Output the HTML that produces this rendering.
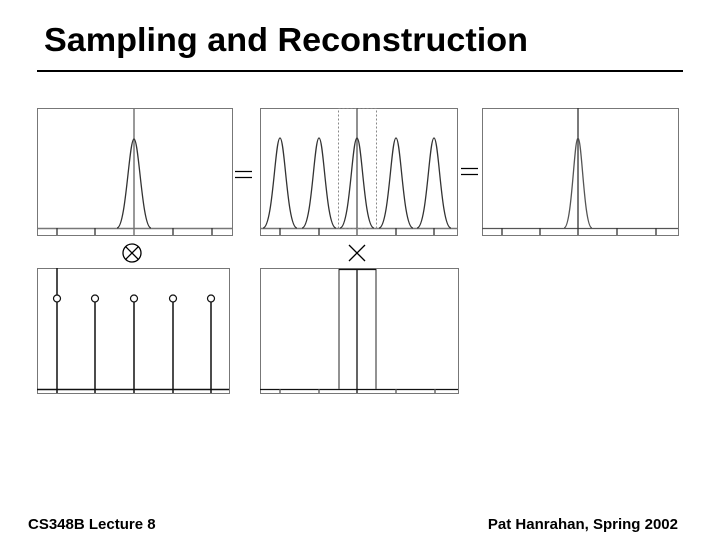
<!DOCTYPE html>
<html><head><meta charset="utf-8"><style>
html,body{margin:0;padding:0;background:#fff}
svg{display:block}
</style></head><body>
<svg width="720" height="540" viewBox="0 0 720 540" xmlns="http://www.w3.org/2000/svg" font-family="Liberation Sans, sans-serif">
<text x="44" y="51" font-size="33" font-weight="bold" textLength="484" lengthAdjust="spacingAndGlyphs">Sampling and Reconstruction</text>
<line x1="37" y1="71" x2="683" y2="71" stroke="#000" stroke-width="2"/>

<g fill="none" stroke="#777" stroke-width="1">
<rect x="37.5" y="108.5" width="195" height="127"/>
<rect x="260.5" y="108.5" width="197" height="127"/>
<rect x="482.5" y="108.5" width="196" height="127"/>
<rect x="37.5" y="268.5" width="192" height="125"/>
<rect x="260.5" y="268.5" width="198" height="125"/>
</g>

<!-- Panel 1 -->
<g stroke-width="1.3" fill="none">
<line x1="37" y1="228.5" x2="232" y2="228.5" stroke="#777" stroke-width="1.5"/>
<line x1="134" y1="108" x2="134" y2="235" stroke="#777" stroke-width="1.5"/>
<path d="M117,228 C126,228 129,139 134,139 C139,139 142,228 151,228" stroke="#333"/>
<g stroke="#333"><line x1="57" y1="228" x2="57" y2="235"/><line x1="95" y1="228" x2="95" y2="235"/><line x1="173" y1="228" x2="173" y2="235"/><line x1="212" y1="228" x2="212" y2="235"/></g>
</g>

<!-- Panel 2 -->
<g stroke-width="1.3" fill="none">
<line x1="260" y1="228.5" x2="457" y2="228.5" stroke="#777" stroke-width="1.5"/>
<line x1="357" y1="108" x2="357" y2="235" stroke="#555"/>
<rect x="338.5" y="108.5" width="38" height="120" stroke="#888" stroke-dasharray="2,2" stroke-width="1"/>
<g stroke="#333">
<path d="M263,228 C273,228 275,138 280,138 C285,138 287,228 297,228"/>
<path d="M302,228 C312,228 314,138 319,138 C324,138 326,228 336,228"/>
<path d="M340,228 C350,228 352,138 357,138 C362,138 364,228 374,228"/>
<path d="M379,228 C389,228 391,138 396,138 C401,138 403,228 413,228"/>
<path d="M417,228 C427,228 429,138 434,138 C439,138 441,228 451,228"/>
<line x1="280" y1="228" x2="280" y2="235"/><line x1="319" y1="228" x2="319" y2="235"/><line x1="396" y1="228" x2="396" y2="235"/><line x1="434" y1="228" x2="434" y2="235"/>
</g>
</g>

<!-- Panel 3 -->
<g stroke-width="1.3" fill="none">
<line x1="482" y1="228.5" x2="678" y2="228.5" stroke="#555" stroke-width="1.3"/>
<line x1="578" y1="108" x2="578" y2="235" stroke="#333"/>
<path d="M564,228 C572,228 574,138 578,138 C582,138 584,228 592,228" stroke="#555"/>
<g stroke="#333"><line x1="502" y1="228" x2="502" y2="235"/><line x1="540" y1="228" x2="540" y2="235"/><line x1="617" y1="228" x2="617" y2="235"/><line x1="656" y1="228" x2="656" y2="235"/></g>
</g>

<!-- Bottom 1 -->
<g stroke-width="1.5" fill="none" stroke="#111">
<line x1="37" y1="389.5" x2="229" y2="389.5"/>
<line x1="57" y1="268" x2="57" y2="393"/>
<line x1="95" y1="302" x2="95" y2="393"/>
<line x1="134" y1="302" x2="134" y2="393"/>
<line x1="173" y1="302" x2="173" y2="393"/>
<line x1="211" y1="302" x2="211" y2="393"/>
<g fill="#fff" stroke-width="1.2">
<circle cx="57" cy="298.5" r="3.5"/><circle cx="95" cy="298.5" r="3.5"/><circle cx="134" cy="298.5" r="3.5"/><circle cx="173" cy="298.5" r="3.5"/><circle cx="211" cy="298.5" r="3.5"/>
</g>
</g>

<!-- Bottom 2 -->
<g stroke-width="1.3" fill="none">
<line x1="260" y1="389.5" x2="458" y2="389.5" stroke="#111"/>
<line x1="339" y1="269" x2="339" y2="389" stroke="#777" stroke-width="1.6"/>
<line x1="376" y1="269" x2="376" y2="389" stroke="#777" stroke-width="1.6"/>
<line x1="339" y1="269.5" x2="376" y2="269.5" stroke="#111"/>
<line x1="357" y1="269" x2="357" y2="393" stroke="#111"/>
<g stroke="#555"><line x1="280" y1="389" x2="280" y2="393"/><line x1="319" y1="389" x2="319" y2="393"/><line x1="396" y1="389" x2="396" y2="393"/><line x1="435" y1="389" x2="435" y2="393"/></g>
</g>

<!-- operators -->
<g stroke="#000" stroke-width="1.3" fill="none">
<line x1="235" y1="171.5" x2="252" y2="171.5"/><line x1="235" y1="177.5" x2="252" y2="177.5"/>
<line x1="461" y1="168.5" x2="478" y2="168.5"/><line x1="461" y1="174.5" x2="478" y2="174.5"/>
<circle cx="132" cy="253" r="9"/>
<line x1="125.6" y1="246.6" x2="138.4" y2="259.4"/><line x1="138.4" y1="246.6" x2="125.6" y2="259.4"/>
<line x1="349" y1="245" x2="365" y2="261"/><line x1="365" y1="245" x2="349" y2="261"/>
</g>

<text x="28" y="529" font-size="15" font-weight="bold">CS348B Lecture 8</text>
<text x="678" y="529" font-size="15" font-weight="bold" text-anchor="end">Pat Hanrahan, Spring 2002</text>
</svg>
</body></html>
